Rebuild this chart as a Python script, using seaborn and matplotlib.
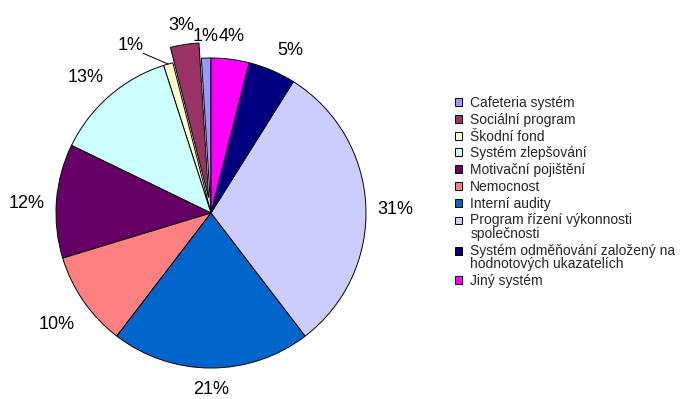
import numpy as np
import pandas as pd
import seaborn as sns
import matplotlib
matplotlib.use("Agg")
import matplotlib.pyplot as plt
from matplotlib.legend_handler import HandlerPatch

# Shares of the individual motivation tools (percent)
categories = [
    "Cafeteria systém",
    "Sociální program",
    "Škodní fond",
    "Systém zlepšování",
    "Motivační pojištění",
    "Nemocnost",
    "Interní audity",
    "Program řízení výkonnosti\nspolečnosti",
    "Systém odměňování založený na\nhodnotových ukazatelích",
    "Jiný systém",
]
values = [1, 3, 1, 13, 12, 10, 21, 31, 5, 4]
colors = ["#9999FF", "#993366", "#FFFFCC", "#CCFFFF", "#660066",
          "#FF8080", "#0066CC", "#CCCCFF", "#000080", "#FF00FF"]
explode = [0, 0.1, 0, 0, 0, 0, 0, 0, 0, 0]

# label placement (radius from pie centre, angular nudge in degrees)
label_radius = [1.15, 1.24, 1.21, 1.20, 1.19, 1.22, 1.125, 1.19, 1.18, 1.16]
label_nudge = [0, 0, 9.4, 1.5, 1.0, 0.5, 0, -1.0, -2.4, 0.7]

df = pd.DataFrame({"category": categories, "value": values, "color": colors})

sns.set_theme(style="white")
plt.rcParams["font.family"] = ["Liberation Sans", "DejaVu Sans"]


class TopAlignedPatch(HandlerPatch):
    """Legend key that sits next to the first line of a wrapped label."""

    def __init__(self, shift, **kw):
        super().__init__(**kw)
        self.shift = shift

    def create_artists(self, legend, orig_handle, xdescent, ydescent,
                       width, height, fontsize, trans):
        return super().create_artists(legend, orig_handle, xdescent,
                                      ydescent - self.shift, width, height,
                                      fontsize, trans)


W, H = 681, 399
fig = plt.figure(figsize=(W / 100, H / 100), dpi=100)
fig.patch.set_facecolor("white")

R = 155.0              # pie radius in pixels
cx, cy = 211.0, 186.0  # pie centre, pixels from lower-left
ax = fig.add_axes([0, 0, 2 * cx / W, 2 * cy / H])

wedges, _ = ax.pie(
    df["value"], colors=df["color"], explode=explode,
    startangle=90, counterclock=True, radius=1.0,
    wedgeprops=dict(edgecolor="black", linewidth=0.7),
)
ax.set_xlim(-cx / R, cx / R)
ax.set_ylim(-cy / R, cy / R)
ax.set_aspect("auto")
ax.axis("off")

for w, v, rl, nd in zip(wedges, df["value"], label_radius, label_nudge):
    mid = 0.5 * (w.theta1 + w.theta2)
    ang = np.deg2rad(mid + nd)
    x, y = rl * np.cos(ang), rl * np.sin(ang)
    ax.text(x, y, f"{v}%", ha="center", va="center_baseline", fontsize=13,
            color="black", clip_on=False)
    if nd > 5:
        # leader line from the shifted label back to its slice
        a0 = np.deg2rad(mid + nd - 2.4)
        a1 = np.deg2rad(mid)
        ax.plot([1.12 * np.cos(a0), np.cos(a1)], [1.12 * np.sin(a0), np.sin(a1)],
                color="black", lw=0.7, clip_on=False)

handler_map = {}
for w, lab in zip(wedges, df["category"]):
    n_lines = lab.count("\n") + 1
    if n_lines > 1:
        handler_map[w] = TopAlignedPatch(shift=5.2 * (n_lines - 1))

leg = fig.legend(
    wedges, df["category"], loc="upper left",
    bbox_to_anchor=(455 / W, 1 - 96 / H), frameon=False,
    fontsize=10, handlelength=0.5, handleheight=0.5, handletextpad=0.6,
    labelspacing=0.2, borderpad=0, borderaxespad=0,
    handler_map=handler_map,
)
for t in leg.get_texts():
    t.set_linespacing(0.95)

fig.savefig("out.png", dpi=100, facecolor="white")
